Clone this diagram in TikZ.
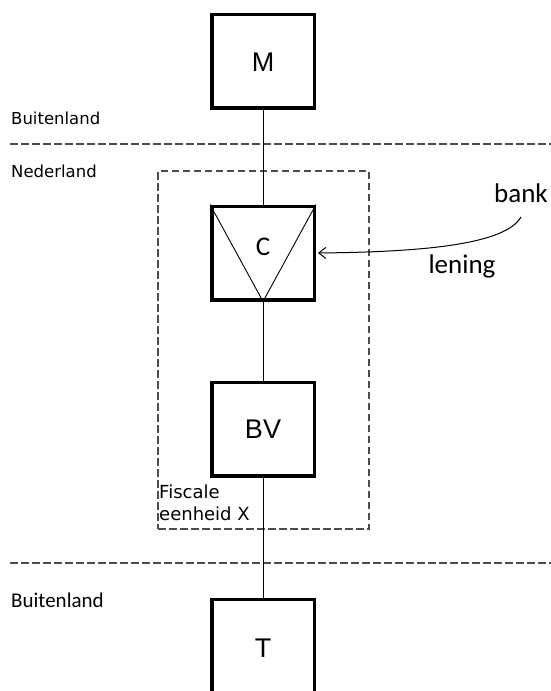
\documentclass[tikz,border=0pt]{standalone}
\usepackage{fontspec}
\setmainfont{Liberation Sans}
\newfontfamily\calfont{Carlito}
\newfontfamily\dvfont{DejaVu Sans}
\usetikzlibrary{arrows.meta}
\begin{document}
\begin{tikzpicture}[x=1pt,y=-1pt,
  entity/.style={draw,line width=3.5pt,minimum width=102.5pt,minimum height=93.5pt,inner sep=0pt},
  entlabel/.style={inner sep=0pt,font=\fontsize{27}{30}\selectfont},
  conn/.style={line width=1pt},
  thinline/.style={line width=0.9pt},
  border/.style={draw=black!70,line width=1.4pt,dash pattern=on 7.5pt off 3.5pt},
  region/.style={anchor=west,inner sep=0pt,font=\dvfont\fontsize{16.5}{20}\selectfont},
  callabel/.style={inner sep=0pt,font=\calfont\fontsize{27}{30}\selectfont}]
\useasboundingbox (0,0) rectangle (551,691);
% boundaries
\coordinate (d1a) at (10,144);
\coordinate (d1b) at (551,144);
\coordinate (d2a) at (10,563);
\coordinate (d2b) at (551,563);
\draw[border] (d1a) -- (d1b);
\draw[border] (d2a) -- (d2b);
\node[border,minimum width=211pt,minimum height=358pt,inner sep=0pt] (FE) at (263.5,350) {};
% entities
\node[entity] (M) at (263,61) {};
\node[entity] (C) at (263,253) {};
\node[entity] (BV) at (263,429) {};
\node[entity] (T) at (263,646) {};
\draw[thinline] (C.north west) -- (C.south) -- (C.north east);
\node[callabel] (Cl) at (263,246.5) {C};
\node[entlabel] (Ml) at (263,62) {M};
\node[entlabel] (BVl) at (263,429) {BV};
\node[entlabel] (Tl) at (263,648) {T};
% connectors
\draw[conn] (M) -- (C);
\draw[conn] (C) -- (BV);
\draw[conn] (BV) -- (T);
% region labels
\node[region] (bl1) at (11,118) {Buitenland};
\node[region] (nl) at (11,171) {Nederland};
\node[anchor=west,inner sep=0pt,font=\calfont\fontsize{21}{24}\selectfont] (bl2) at (11,600) {Buitenland};
\node[anchor=north west,inner sep=0pt,align=left,font=\dvfont\fontsize{18}{22}\selectfont] (fel) at (159,485) {Fiscale\\eenheid X};
% loan
\node[callabel] (bank) at (521,193) {bank};
\node[callabel] (len) at (462,266) {lening};
\coordinate (bk) at (521,217);
\coordinate (Cin) at ([xshift=2pt]C.east);
\draw[line width=1pt,-{Straight Barb[length=7pt,width=11pt]}] (bk) .. controls (505,245) and (420,252) .. (Cin);
\end{tikzpicture}
\end{document}
